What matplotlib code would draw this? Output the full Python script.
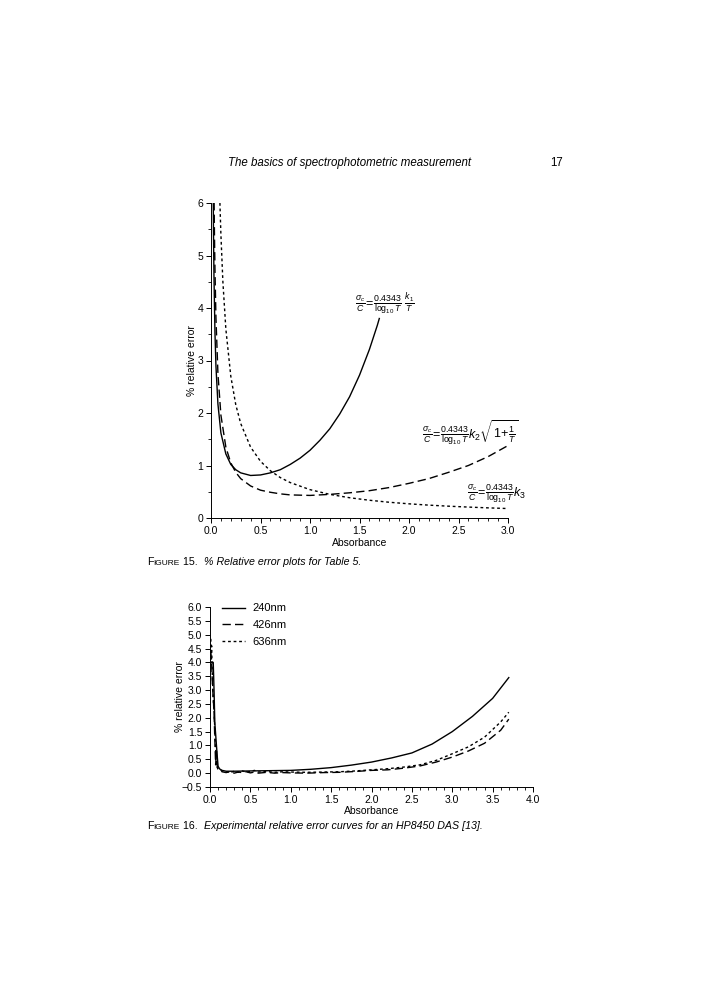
import matplotlib
matplotlib.use("Agg")
import matplotlib.pyplot as plt
from matplotlib.ticker import MultipleLocator, FormatStrFormatter, FuncFormatter

plt.rcParams['font.family'] = ['Liberation Sans', 'DejaVu Sans']
plt.rcParams['mathtext.fontset'] = 'custom'
plt.rcParams['mathtext.rm'] = 'Liberation Sans'
plt.rcParams['mathtext.it'] = 'Liberation Sans:italic'
plt.rcParams['mathtext.bf'] = 'Liberation Sans:bold'
plt.rcParams['axes.unicode_minus'] = True

# ---- Figure 15: theoretical % relative error vs absorbance
abs_k1 = [0.02, 0.025, 0.03, 0.04, 0.05, 0.07, 0.1, 0.15, 0.2, 0.25, 0.3, 0.4, 0.5,
          0.6, 0.7, 0.8, 0.9, 1.0, 1.1, 1.2, 1.3, 1.4, 1.5, 1.6, 1.68, 1.7]
err_k1 = [6.75, 5.47, 4.61, 3.53, 2.89, 2.17, 1.62, 1.22, 1.02, 0.92, 0.86, 0.81, 0.82,
          0.86, 0.92, 1.02, 1.14, 1.29, 1.48, 1.70, 1.98, 2.31, 2.72, 3.21, 3.67, 3.80]

abs_k2 = [0.02, 0.03, 0.035, 0.04, 0.05, 0.07, 0.1, 0.15, 0.2, 0.25, 0.3, 0.4, 0.5, 0.6,
          0.7, 0.8, 1.0, 1.2, 1.4, 1.6, 1.8, 2.0, 2.2, 2.4, 2.6, 2.8, 3.0]
err_k2 = [9.35, 6.27, 5.39, 4.73, 3.81, 2.75, 1.96, 1.35, 1.05, 0.87, 0.75, 0.61, 0.53, 0.49,
          0.46, 0.44, 0.43, 0.45, 0.48, 0.52, 0.58, 0.66, 0.75, 0.87, 1.00, 1.17, 1.38]

abs_k3 = [0.09, 0.1, 0.12, 0.15, 0.2, 0.25, 0.3, 0.4, 0.5, 0.6, 0.7, 0.8, 1.0, 1.2, 1.4,
          1.6, 1.8, 2.0, 2.2, 2.4, 2.6, 2.8, 3.0]
err_k3 = [6.0, 5.4, 4.5, 3.6, 2.7, 2.16, 1.8, 1.35, 1.08, 0.90, 0.77, 0.675, 0.54, 0.45, 0.386,
          0.338, 0.30, 0.27, 0.245, 0.225, 0.208, 0.193, 0.18]

# ---- Figure 16: experimental curves (HP8450)
abs_240 = [0.02, 0.04, 0.05, 0.06, 0.07, 0.08, 0.09, 0.1, 0.12, 0.15, 0.2, 0.3, 0.5, 0.75,
           1.0, 1.25, 1.5, 1.75, 2.0, 2.25, 2.5, 2.75, 3.0, 3.25, 3.5, 3.7]
err_240 = [4.0, 4.0, 3.0, 1.8, 1.4, 1.0, 0.6, 0.25, 0.15, 0.1, 0.07, 0.07, 0.08, 0.09,
           0.1, 0.14, 0.2, 0.29, 0.4, 0.55, 0.73, 1.05, 1.5, 2.05, 2.7, 3.45]

abs_426 = [0.01, 0.02, 0.03, 0.05, 0.06, 0.07, 0.08, 0.09, 0.1, 0.12, 0.15, 0.2, 0.25, 0.3,
           0.35, 0.4, 0.45, 0.5, 0.55, 0.6, 0.7, 0.8, 0.9, 1.0, 1.2, 1.4, 1.6, 1.8, 2.0,
           2.2, 2.4, 2.6, 2.8, 3.0, 3.2, 3.4, 3.6, 3.7]
err_426 = [4.4, 4.0, 3.2, 2.2, 1.2, 0.3, 0.8, 0.25, 0.12, 0.1, 0.05, 0.02, 0.06, 0.0,
           0.04, 0.02, 0.05, 0.01, 0.04, 0.0, 0.03, 0.0, 0.02, 0.01, 0.0, 0.02, 0.03, 0.06, 0.1,
           0.12, 0.18, 0.26, 0.4, 0.58, 0.8, 1.08, 1.55, 1.95]

abs_636 = [0.01, 0.015, 0.02, 0.03, 0.04, 0.05, 0.06, 0.07, 0.08, 0.09, 0.1, 0.12, 0.15,
           0.2, 0.25, 0.3, 0.35, 0.4, 0.45, 0.5, 0.55, 0.6, 0.7, 0.8, 0.9, 1.0, 1.2, 1.4,
           1.6, 1.8, 2.0, 2.2, 2.4, 2.6, 2.8, 3.0, 3.2, 3.4, 3.6, 3.7]
err_636 = [4.85, 4.3, 4.6, 3.4, 2.7, 2.2, 1.6, 0.9, 0.4, 0.2, 0.15, 0.12, 0.08,
           0.05, 0.02, 0.07, 0.03, 0.08, 0.04, 0.06, 0.1, 0.04, 0.06, 0.03, 0.05, 0.04, 0.03, 0.04,
           0.05, 0.08, 0.12, 0.16, 0.22, 0.3, 0.46, 0.7, 0.95, 1.3, 1.85, 2.2]

fig = plt.figure(figsize=(7.06, 10), dpi=100)

def px(x, y):
    return x / 706, 1 - y / 1000

# top chart
ax1 = fig.add_axes([211 / 706, 1 - 518 / 1000, 297 / 706, 315 / 1000])
ax1.plot(abs_k1, err_k1, color='black', lw=1.0)
ax1.plot(abs_k2, err_k2, color='black', lw=1.0, dashes=(6, 3))
ax1.plot(abs_k3, err_k3, color='black', lw=1.0, dashes=(2, 2))
ax1.set_xlim(0, 3.0)
ax1.set_ylim(0, 6)
ax1.xaxis.set_major_locator(MultipleLocator(0.5))
ax1.xaxis.set_minor_locator(MultipleLocator(0.1))
ax1.yaxis.set_major_locator(MultipleLocator(1))
ax1.yaxis.set_minor_locator(MultipleLocator(0.5))
ax1.xaxis.set_major_formatter(FormatStrFormatter('%.1f'))
ax1.set_xlabel('Absorbance', fontsize=7.5, labelpad=2)
ax1.set_ylabel('% relative error', fontsize=7.5, labelpad=0)
ax1.text(1.76, 4.06, r'$\frac{\sigma_c}{C}\!=\!\frac{0.4343}{\log_{10}T}\ \frac{k_1}{T}$',
         fontsize=9, ha='center', va='center')
ax1.text(2.62, 1.62, r'$\frac{\sigma_c}{C}\!=\!\frac{0.4343}{\log_{10}T}k_2\sqrt{1\!+\!\frac{1}{T}}$',
         fontsize=9, ha='center', va='center')
ax1.text(2.88, 0.46, r'$\frac{\sigma_c}{C}\!=\!\frac{0.4343}{\log_{10}T}k_3$',
         fontsize=9, ha='center', va='center')

# bottom chart
ax2 = fig.add_axes([210 / 706, 1 - 787 / 1000, 323 / 706, 180 / 1000])
ax2.plot(abs_240, err_240, color='black', lw=1.0, label='240nm')
ax2.plot(abs_426, err_426, color='black', lw=1.0, dashes=(6, 3), label='426nm')
ax2.plot(abs_636, err_636, color='black', lw=1.0, dashes=(2, 2), label='636nm')
ax2.set_xlim(0, 4.0)
ax2.set_ylim(-0.5, 6.0)
ax2.xaxis.set_major_locator(MultipleLocator(0.5))
ax2.xaxis.set_minor_locator(MultipleLocator(0.1))
ax2.yaxis.set_major_locator(MultipleLocator(0.5))
ax2.xaxis.set_major_formatter(FormatStrFormatter('%.1f'))
ax2.yaxis.set_major_formatter(FuncFormatter(lambda v, p: f'{v:.1f}'.replace('-', '\u2212')))
ax2.set_xlabel('Absorbance', fontsize=7.5, labelpad=1)
ax2.set_ylabel('% relative error', fontsize=7.5, labelpad=-2)
ax2.legend(loc='upper left', bbox_to_anchor=(12 / 323, 1.02), frameon=False, fontsize=8,
           borderpad=0, borderaxespad=0, handlelength=2.1, handletextpad=0.65,
           labelspacing=0.6)

for ax in (ax1, ax2):
    for s in ('top', 'right'):
        ax.spines[s].set_visible(False)
    ax.spines['left'].set_linewidth(0.7)
    ax.spines['bottom'].set_linewidth(0.7)
    ax.tick_params(which='major', direction='out', length=3.5, width=0.7, labelsize=7.5, pad=2)
    ax.tick_params(which='minor', direction='out', length=2, width=0.6)

# page header and captions
fig.text(*px(350, 163), 'The basics of spectrophotometric measurement', fontsize=8.3,
         style='italic', ha='center', va='center')
fig.text(*px(557, 163), '17', fontsize=8.3, ha='center', va='center')

fig.canvas.draw()
renderer = fig.canvas.get_renderer()

def caption(x, y, pieces):
    # pieces drawn one after another, like small caps + italic text
    cur = x
    for txt, size, style in pieces:
        t = fig.text(*px(cur, y), txt, fontsize=size, style=style, ha='left', va='baseline')
        bb = t.get_window_extent(renderer)
        cur += bb.width

caption(147, 565, [('F', 7.7, 'normal'), ('IGURE', 6.0, 'normal'), (' 15.  ', 7.7, 'normal'),
                   ('% Relative error plots for Table 5.', 7.7, 'italic')])
caption(147, 829, [('F', 7.7, 'normal'), ('IGURE', 6.0, 'normal'), (' 16.  ', 7.7, 'normal'),
                   ('Experimental relative error curves for an HP8450 DAS [13].', 7.7, 'italic')])

fig.savefig('out.png', dpi=100)
